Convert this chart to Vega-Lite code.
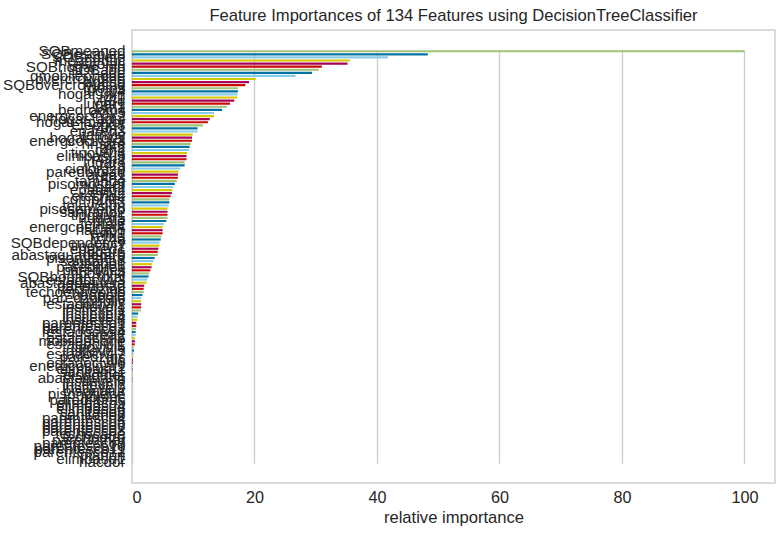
{
  "$schema": "https://vega.github.io/schema/vega-lite/v6.json",
  "autosize": {"type": "none"},
  "padding": {"left": 132, "top": 30, "right": 9, "bottom": 51},
  "width": 643,
  "height": 453,
  "background": "white",
  "title": {
    "text": "Feature Importances of 134 Features using DecisionTreeClassifier",
    "font": "Liberation Sans",
    "fontSize": 16.6,
    "fontWeight": "normal",
    "color": "#262626",
    "anchor": "middle",
    "offset": 5
  },
  "config": {
    "view": {"stroke": "#d0d0d0", "strokeWidth": 1.5},
    "axis": {"labelFont": "Liberation Sans", "titleFont": "Liberation Sans", "labelColor": "#262626", "titleColor": "#262626"}
  },
  "data": {
    "values": [
      {"feature": "SQBmeaned", "importance": 100, "cycle": 0},
      {"feature": "SQBescolari", "importance": 48.3, "cycle": 1},
      {"feature": "SQBedjefe", "importance": 41.8, "cycle": 2},
      {"feature": "meaneduc", "importance": 35.6, "cycle": 3},
      {"feature": "escolari", "importance": 35.2, "cycle": 4},
      {"feature": "SQBhogar_nin", "importance": 31.0, "cycle": 5},
      {"feature": "SQBage", "importance": 30.5, "cycle": 0},
      {"feature": "age", "importance": 29.4, "cycle": 1},
      {"feature": "qmobilephone", "importance": 26.7, "cycle": 2},
      {"feature": "overcrowding", "importance": 20.2, "cycle": 3},
      {"feature": "agesq", "importance": 19.1, "cycle": 4},
      {"feature": "SQBovercrowding", "importance": 18.5, "cycle": 5},
      {"feature": "rooms", "importance": 17.3, "cycle": 0},
      {"feature": "lugar4", "importance": 17.3, "cycle": 1},
      {"feature": "hogar_nin", "importance": 17.2, "cycle": 2},
      {"feature": "r4t1", "importance": 17.2, "cycle": 3},
      {"feature": "v18q", "importance": 16.7, "cycle": 4},
      {"feature": "lugar1", "importance": 16.0, "cycle": 5},
      {"feature": "r4h1", "importance": 15.5, "cycle": 0},
      {"feature": "bedrooms", "importance": 14.7, "cycle": 1},
      {"feature": "eviv3", "importance": 13.4, "cycle": 2},
      {"feature": "energcocinar2", "importance": 13.4, "cycle": 3},
      {"feature": "hogar_adul", "importance": 12.7, "cycle": 4},
      {"feature": "hogar_mayor", "importance": 12.4, "cycle": 5},
      {"feature": "etecho3", "importance": 11.6, "cycle": 0},
      {"feature": "r4m1", "importance": 10.7, "cycle": 1},
      {"feature": "epared3", "importance": 10.7, "cycle": 2},
      {"feature": "tamviv", "importance": 9.9, "cycle": 3},
      {"feature": "hogar_total", "importance": 9.8, "cycle": 4},
      {"feature": "energcocinar3", "importance": 9.8, "cycle": 5},
      {"feature": "hhsize", "importance": 9.6, "cycle": 0},
      {"feature": "r4t2", "importance": 9.4, "cycle": 1},
      {"feature": "r4h2", "importance": 9.3, "cycle": 2},
      {"feature": "tipovivi3", "importance": 9.0, "cycle": 3},
      {"feature": "elimbasu3", "importance": 8.9, "cycle": 4},
      {"feature": "r4m2", "importance": 8.9, "cycle": 5},
      {"feature": "lugar3", "importance": 8.6, "cycle": 0},
      {"feature": "r4t3", "importance": 8.6, "cycle": 1},
      {"feature": "cielorazo", "importance": 7.9, "cycle": 2},
      {"feature": "paredblolad", "importance": 7.6, "cycle": 3},
      {"feature": "area1", "importance": 7.5, "cycle": 4},
      {"feature": "r4h3", "importance": 7.5, "cycle": 5},
      {"feature": "tamhog", "importance": 7.3, "cycle": 0},
      {"feature": "pisomoscer", "importance": 7.0, "cycle": 1},
      {"feature": "lugar2", "importance": 6.7, "cycle": 2},
      {"feature": "epared2", "importance": 6.6, "cycle": 3},
      {"feature": "eviv2", "importance": 6.5, "cycle": 4},
      {"feature": "etecho2", "importance": 6.3, "cycle": 5},
      {"feature": "computer", "importance": 6.1, "cycle": 0},
      {"feature": "r4m3", "importance": 6.1, "cycle": 1},
      {"feature": "television", "importance": 6.0, "cycle": 2},
      {"feature": "pisocemento", "importance": 5.8, "cycle": 3},
      {"feature": "sanitario2", "importance": 5.8, "cycle": 4},
      {"feature": "tipovivi1", "importance": 5.8, "cycle": 5},
      {"feature": "lugar5", "importance": 5.8, "cycle": 0},
      {"feature": "male", "importance": 5.6, "cycle": 1},
      {"feature": "female", "importance": 5.2, "cycle": 2},
      {"feature": "energcocinar4", "importance": 5.0, "cycle": 3},
      {"feature": "hacapo", "importance": 5.0, "cycle": 4},
      {"feature": "eviv1", "importance": 5.0, "cycle": 5},
      {"feature": "refrig", "importance": 4.8, "cycle": 0},
      {"feature": "v14a", "importance": 4.7, "cycle": 1},
      {"feature": "SQBdependency", "importance": 4.5, "cycle": 2},
      {"feature": "tipovivi2", "importance": 4.5, "cycle": 3},
      {"feature": "epared1", "importance": 4.3, "cycle": 4},
      {"feature": "lugar6", "importance": 4.2, "cycle": 5},
      {"feature": "abastaguadentro", "importance": 4.2, "cycle": 0},
      {"feature": "pisomadera", "importance": 3.7, "cycle": 1},
      {"feature": "sanitario3", "importance": 3.5, "cycle": 2},
      {"feature": "etecho1", "importance": 3.3, "cycle": 3},
      {"feature": "paredpreb", "importance": 3.2, "cycle": 4},
      {"feature": "pareddes", "importance": 3.0, "cycle": 5},
      {"feature": "tipovivi4", "importance": 2.8, "cycle": 0},
      {"feature": "SQBhogar_total", "importance": 2.7, "cycle": 1},
      {"feature": "estadocivil3", "importance": 2.5, "cycle": 2},
      {"feature": "abastaguafuera", "importance": 2.4, "cycle": 3},
      {"feature": "paredmad", "importance": 2.0, "cycle": 4},
      {"feature": "techozinc", "importance": 1.9, "cycle": 5},
      {"feature": "techoentrepiso", "importance": 1.9, "cycle": 0},
      {"feature": "coopele", "importance": 1.7, "cycle": 1},
      {"feature": "paredzocalo", "importance": 1.5, "cycle": 2},
      {"feature": "public", "importance": 1.5, "cycle": 3},
      {"feature": "estadocivil2", "importance": 1.5, "cycle": 4},
      {"feature": "instlevel1", "importance": 1.5, "cycle": 5},
      {"feature": "instlevel2", "importance": 1.4, "cycle": 0},
      {"feature": "instlevel3", "importance": 1.0, "cycle": 1},
      {"feature": "instlevel4", "importance": 0.9, "cycle": 2},
      {"feature": "instlevel8", "importance": 0.9, "cycle": 3},
      {"feature": "parentesco1", "importance": 0.7, "cycle": 4},
      {"feature": "parentesco2", "importance": 0.7, "cycle": 5},
      {"feature": "parentesco3", "importance": 0.65, "cycle": 0},
      {"feature": "estadocivil4", "importance": 0.6, "cycle": 1},
      {"feature": "area2", "importance": 0.6, "cycle": 2},
      {"feature": "estadocivil5", "importance": 0.5, "cycle": 3},
      {"feature": "mobilephone", "importance": 0.5, "cycle": 4},
      {"feature": "estadocivil1", "importance": 0.45, "cycle": 5},
      {"feature": "tipovivi5", "importance": 0.35, "cycle": 0},
      {"feature": "instlevel5", "importance": 0.33, "cycle": 1},
      {"feature": "estadocivil7", "importance": 0.27, "cycle": 2},
      {"feature": "paredzinc", "importance": 0.22, "cycle": 3},
      {"feature": "dis", "importance": 0.16, "cycle": 4},
      {"feature": "estadocivil6", "importance": 0.15, "cycle": 5},
      {"feature": "energcocinar1", "importance": 0.12, "cycle": 0},
      {"feature": "elimbasu2", "importance": 0.1, "cycle": 1},
      {"feature": "sanitario1", "importance": 0.1, "cycle": 2},
      {"feature": "pisoother", "importance": 0.08, "cycle": 3},
      {"feature": "abastaguano", "importance": 0.05, "cycle": 4},
      {"feature": "instlevel6", "importance": 0.03, "cycle": 5},
      {"feature": "instlevel7", "importance": 0, "cycle": 0},
      {"feature": "instlevel9", "importance": 0, "cycle": 1},
      {"feature": "pisonatur", "importance": 0, "cycle": 2},
      {"feature": "pisonotiene", "importance": 0, "cycle": 3},
      {"feature": "noelec", "importance": 0, "cycle": 4},
      {"feature": "paredfibras", "importance": 0, "cycle": 5},
      {"feature": "elimbasu5", "importance": 0, "cycle": 0},
      {"feature": "elimbasu4", "importance": 0, "cycle": 1},
      {"feature": "elimbasu6", "importance": 0, "cycle": 2},
      {"feature": "sanitario5", "importance": 0, "cycle": 3},
      {"feature": "sanitario6", "importance": 0, "cycle": 4},
      {"feature": "parentesco4", "importance": 0, "cycle": 5},
      {"feature": "parentesco5", "importance": 0, "cycle": 0},
      {"feature": "parentesco6", "importance": 0, "cycle": 1},
      {"feature": "parentesco7", "importance": 0, "cycle": 2},
      {"feature": "parentesco8", "importance": 0, "cycle": 3},
      {"feature": "techocane", "importance": 0, "cycle": 4},
      {"feature": "techootro", "importance": 0, "cycle": 5},
      {"feature": "paredother", "importance": 0, "cycle": 0},
      {"feature": "parentesco9", "importance": 0, "cycle": 1},
      {"feature": "parentesco10", "importance": 0, "cycle": 2},
      {"feature": "parentesco11", "importance": 0, "cycle": 3},
      {"feature": "parentesco12", "importance": 0, "cycle": 4},
      {"feature": "planpri", "importance": 0, "cycle": 5},
      {"feature": "elimbasu1", "importance": 0, "cycle": 0},
      {"feature": "hacdor", "importance": 0, "cycle": 1}
    ]
  },
  "mark": {"type": "bar"},
  "encoding": {
    "y": {
      "field": "feature",
      "type": "nominal",
      "sort": null,
      "scale": {"paddingInner": 0.3, "paddingOuter": 0.15, "range": [19.7, 433.2]},
      "axis": {
        "title": null,
        "ticks": false,
        "domain": false,
        "grid": false,
        "labelOverlap": false,
        "labelFontSize": 15.2,
        "labelPadding": 7,
        "labelLimit": 300
      }
    },
    "x": {
      "field": "importance",
      "type": "quantitative",
      "scale": {"domain": [0, 105], "nice": false},
      "axis": {
        "title": "relative importance",
        "titleFontSize": 16.6,
        "titleFontWeight": "normal",
        "titlePadding": 4,
        "values": [0, 20, 40, 60, 80, 100],
        "labelFontSize": 16.2,
        "labelPadding": 6,
        "ticks": false,
        "domain": false,
        "grid": true,
        "gridColor": "#cccccc",
        "gridWidth": 1.3
      }
    },
    "color": {
      "field": "cycle",
      "type": "nominal",
      "scale": {"domain": [0, 1, 2, 3, 4, 5], "range": ["#9fc377", "#0272a2", "#88cce9", "#d7c703", "#a50258", "#ca0b03"]},
      "legend": null
    }
  }
}
